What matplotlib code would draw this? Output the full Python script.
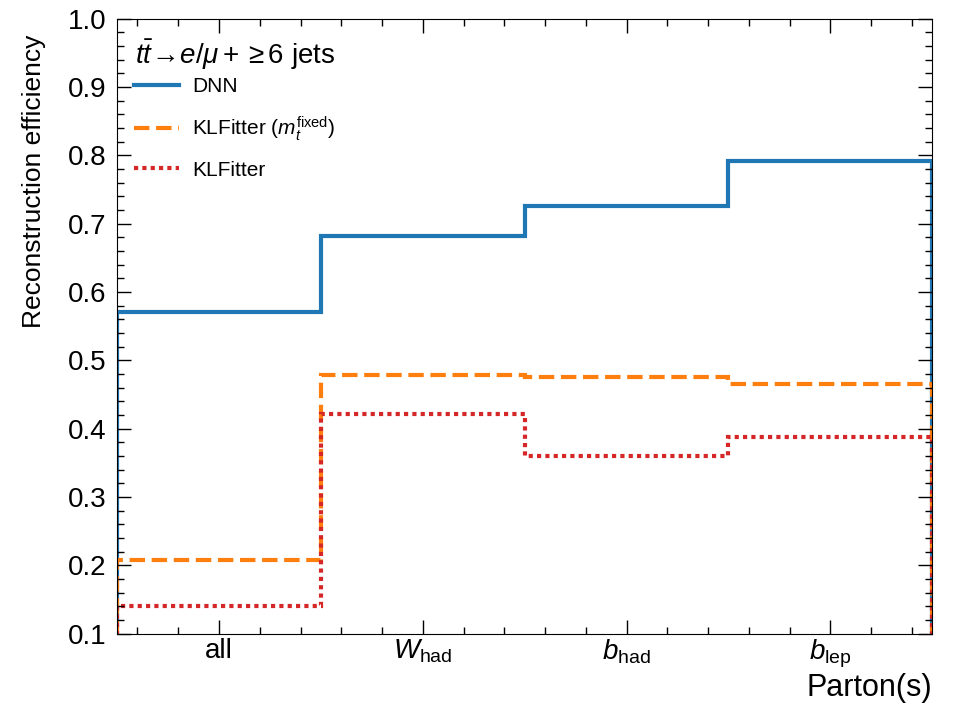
import matplotlib
matplotlib.use("Agg")
import matplotlib.pyplot as plt
import numpy as np

plt.rcParams['font.family'] = ['Liberation Sans', 'DejaVu Sans']
plt.rcParams['mathtext.fontset'] = 'custom'
plt.rcParams['mathtext.rm'] = 'Liberation Sans'
plt.rcParams['mathtext.it'] = 'Liberation Sans:italic'
plt.rcParams['mathtext.bf'] = 'Liberation Sans:bold'

# category labels and efficiencies
partons = ['all', r'$W_{\mathrm{had}}$', r'$b_{\mathrm{had}}$', r'$b_{\mathrm{lep}}$']
dnn = [0.571, 0.682, 0.726, 0.792]
kl_fixed = [0.207, 0.478, 0.475, 0.466]
kl = [0.141, 0.421, 0.360, 0.388]

edges = np.arange(len(partons) + 1)

fig, ax = plt.subplots(figsize=(9.6, 7.2), dpi=100)

ax.stairs(dnn, edges, baseline=0, color='#1f77b4', lw=3, label='DNN')
ax.stairs(kl_fixed, edges, baseline=0, color='#ff7f0e', lw=3, ls=(0, (3.7, 1.6)),
          label=r'KLFitter ($m_t^{\mathrm{fixed}}$)')
ax.stairs(kl, edges, baseline=0, color='#d62728', lw=3, ls=(0, (1, 1)),
          label='KLFitter')

ax.set_xlim(0, 4)
ax.set_ylim(0.1, 1.0)
ax.set_xticks(edges[:-1] + 0.5)
ax.set_xticklabels(partons)
ax.set_xticks(np.arange(0.1, 4.0, 0.2), minor=True)
ax.set_yticks(np.arange(0.1, 1.01, 0.1))
ax.set_yticks(np.arange(0.1, 1.001, 0.02), minor=True)
ax.yaxis.set_major_formatter(matplotlib.ticker.FormatStrFormatter('%.1f'))

ax.tick_params(which='both', direction='in', top=True, right=True, labelsize=20)
ax.tick_params(which='major', length=10, width=1)
ax.tick_params(which='minor', length=5, width=1)
ax.tick_params(axis='x', which='major', pad=3)
ax.tick_params(axis='y', which='major', pad=8)

ax.set_xlabel('Parton(s)', fontsize=22, loc='right', labelpad=2)
ax.set_ylabel('Reconstruction efficiency', fontsize=19, loc='top')
ax.yaxis.set_label_coords(-0.087, 0.974)

ax.text(0.022, 0.941, r'$t\bar{t}\!\rightarrow\! e/\mu + \geq 6$ jets',
        transform=ax.transAxes, fontsize=20, va='center', ha='left')

leg = ax.legend(loc='upper left', frameon=False, fontsize=15,
                handlelength=2.2, labelspacing=0.85, handletextpad=0.6,
                borderaxespad=0, bbox_to_anchor=(0.01, 0.918))

fig.subplots_adjust(left=0.122, right=0.971, top=0.974, bottom=0.12)
fig.savefig('out.png', dpi=100)
